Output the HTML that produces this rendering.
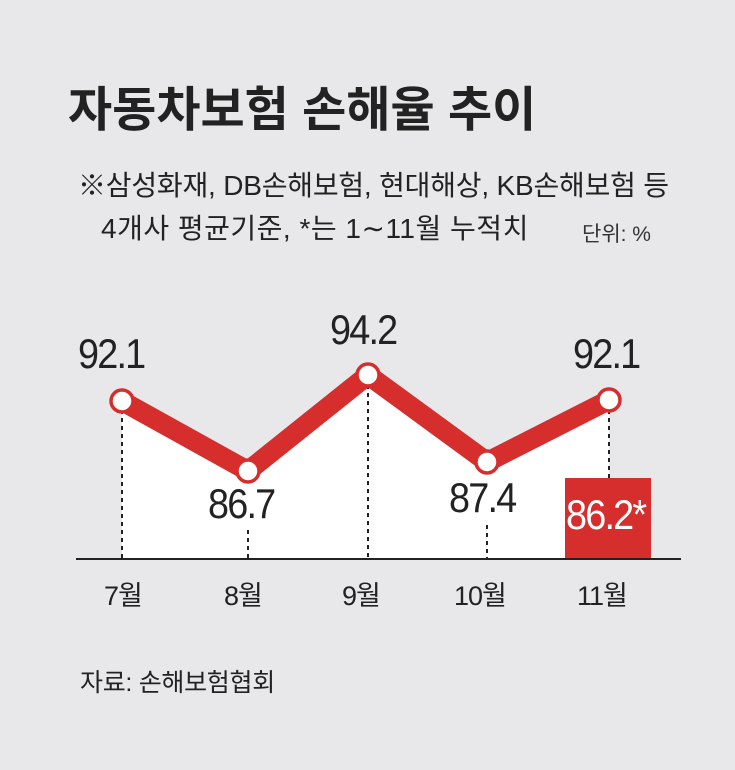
<!DOCTYPE html>
<html><head><meta charset="utf-8"><style>
body{margin:0;width:735px;height:770px;background:#e8e8ea;overflow:hidden;font-family:"Liberation Sans","Noto Sans CJK KR",sans-serif;color:#222}
.t{position:absolute;white-space:nowrap}
</style></head><body>
<svg width="735" height="770" style="position:absolute;left:0;top:0">
<polygon points="122,401 248,471 368,375 487,462 609,400 609,559 122,559" fill="#fff"/>
<g stroke="#222" stroke-width="2" stroke-dasharray="4,4">
<line x1="122" y1="410" x2="122" y2="558"/>
<line x1="248" y1="530" x2="248" y2="558"/>
<line x1="368" y1="385" x2="368" y2="558"/>
<line x1="487" y1="525" x2="487" y2="558"/>
<line x1="609" y1="410" x2="609" y2="478"/>
</g>
<rect x="565" y="478" width="86" height="81" fill="#d62d2d"/>
<polyline points="122,401 248,471 368,375 487,462 609,400" fill="none" stroke="#d62d2d" stroke-width="20" stroke-linejoin="round"/>
<g fill="#fff" stroke="#d62d2d" stroke-width="3.5">
<circle cx="122" cy="401" r="11"/><circle cx="248" cy="471" r="11"/><circle cx="368" cy="375" r="11"/><circle cx="487" cy="462" r="11"/><circle cx="609" cy="400" r="11"/>
</g>
<line x1="76" y1="559" x2="681" y2="559" stroke="#222" stroke-width="2"/>
</svg>
<div class="t" style="left:68px;top:70px;font-size:48px;font-weight:bold;letter-spacing:0px">자동차보험 손해율 추이</div>
<div class="t" style="left:78px;top:164px;font-size:28px;letter-spacing:-0.2px">※삼성화재, DB손해보험, 현대해상, KB손해보험 등</div>
<div class="t" style="left:101px;top:207px;font-size:28px;letter-spacing:0.5px">4개사 평균기준, *는 1∼11월 누적치</div>
<div class="t" style="left:582px;top:218px;font-size:21px;color:#333">단위: %</div>
<div style="font-size:42px;letter-spacing:-2px">
<div class="t" style="left:78px;top:330px;transform:scaleX(.9);transform-origin:left">92.1</div>
<div class="t" style="left:208px;top:480px;transform:scaleX(.9);transform-origin:left">86.7</div>
<div class="t" style="left:330px;top:306px;transform:scaleX(.9);transform-origin:left">94.2</div>
<div class="t" style="left:449px;top:474px;transform:scaleX(.9);transform-origin:left">87.4</div>
<div class="t" style="left:573px;top:330px;transform:scaleX(.9);transform-origin:left">92.1</div>
<div class="t" style="left:566px;top:491px;color:#fff;transform:scaleX(.9);transform-origin:left">86.2*</div>
</div>
<div style="font-size:27px;letter-spacing:-1px">
<div class="t" style="left:104px;top:574px">7월</div>
<div class="t" style="left:224px;top:574px">8월</div>
<div class="t" style="left:342px;top:574px">9월</div>
<div class="t" style="left:454px;top:574px">10월</div>
<div class="t" style="left:577px;top:574px">11월</div>
</div>
<div class="t" style="left:80px;top:663px;font-size:25px;letter-spacing:-0.3px">자료: 손해보험협회</div>
</body></html>
